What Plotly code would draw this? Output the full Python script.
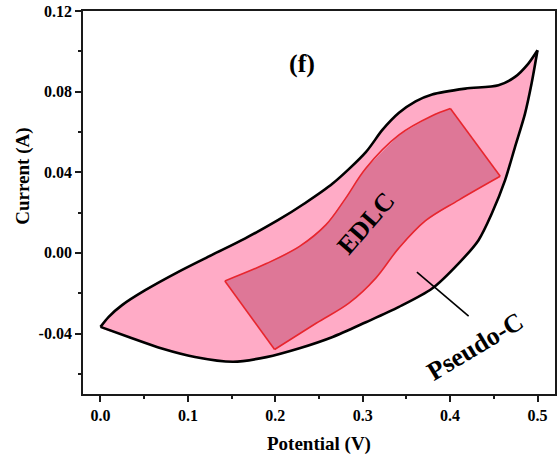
import plotly.graph_objects as go

# ---- data ----
# anodic sweep (upper branch), 0 -> 0.5 V
cv_fwd_x = [0.000, 0.0094, 0.0247, 0.0512, 0.0891, 0.1271, 0.1651, 0.2030, 0.2334,
            0.2656, 0.3036, 0.3225, 0.3415, 0.3605, 0.3794, 0.4174, 0.4553, 0.4743,
            0.4895, 0.5000]
cv_fwd_y = [-0.0367, -0.0317, -0.0259, -0.0185, -0.0094, -0.0011, 0.0071, 0.0162, 0.0245,
            0.0344, 0.0500, 0.0610, 0.0695, 0.0752, 0.0786, 0.0815, 0.0832, 0.0873,
            0.0939, 0.1005]
# cathodic sweep (lower branch), 0.5 -> 0 V
cv_rev_x = [0.5000, 0.4932, 0.4857, 0.4743, 0.4629, 0.4477, 0.4325, 0.4098, 0.3794,
            0.3415, 0.3036, 0.2656, 0.2277, 0.1898, 0.1517, 0.1081, 0.0702, 0.0322, 0.000]
cv_rev_y = [0.1005, 0.0840, 0.0691, 0.0526, 0.0361, 0.0195, 0.0063, -0.0052, -0.0177,
            -0.0268, -0.0344, -0.0417, -0.0473, -0.0517, -0.0540, -0.0516, -0.0474, -0.0417, -0.0367]

# EDLC region: upper edge (left corner -> top corner), lower edge (bottom corner -> right corner)
edlc_upper_x = [0.1423, 0.1898, 0.2277, 0.2581, 0.2800, 0.3036, 0.3415, 0.3794, 0.4003]
edlc_upper_y = [-0.0139, -0.0053, 0.0032, 0.0140, 0.0268, 0.0420, 0.0585, 0.0680, 0.0716]
edlc_lower_x = [0.1992, 0.2467, 0.2846, 0.3150, 0.3415, 0.3719, 0.4098, 0.4573]
edlc_lower_y = [-0.0479, -0.0349, -0.0248, -0.0125, 0.0025, 0.0160, 0.0262, 0.0380]

pointer_x = [0.362, 0.4212]
pointer_y = [-0.0095, -0.0314]

x_ticks = [0.0, 0.1, 0.2, 0.3, 0.4, 0.5]
x_ticktext = ["0.0", "0.1", "0.2", "0.3", "0.4", "0.5"]
x_minor = [0.05, 0.15, 0.25, 0.35, 0.45]
y_ticks = [-0.04, 0.0, 0.04, 0.08, 0.12]
y_ticktext = ["-0.04", "0.00", "0.04", "0.08", "0.12"]
y_minor = [-0.06, -0.02, 0.02, 0.06, 0.10]

FONT = "Liberation Serif"
PINK = "#FFABC6"
DARK_PINK = "#DE7797"
RED = "#E8262E"

fig = go.Figure()

# outer CV fill
fig.add_trace(go.Scatter(
    x=cv_fwd_x + cv_rev_x[1:], y=cv_fwd_y + cv_rev_y[1:],
    mode="lines", fill="toself", fillcolor=PINK,
    line=dict(width=0, shape="spline", smoothing=0.8, color=PINK),
    hoverinfo="skip", showlegend=False))

# EDLC fill
poly_x = edlc_upper_x + edlc_lower_x[::-1] + [edlc_upper_x[0]]
poly_y = edlc_upper_y + edlc_lower_y[::-1] + [edlc_upper_y[0]]
fig.add_trace(go.Scatter(
    x=poly_x, y=poly_y, mode="lines", fill="toself", fillcolor=DARK_PINK,
    line=dict(width=0, color=DARK_PINK),
    hoverinfo="skip", showlegend=False))

# EDLC red edges
for xs, ys, shp in [
    (edlc_upper_x, edlc_upper_y, "spline"),
    (edlc_lower_x, edlc_lower_y, "spline"),
    ([edlc_upper_x[-1], edlc_lower_x[-1]], [edlc_upper_y[-1], edlc_lower_y[-1]], "linear"),
    ([edlc_upper_x[0], edlc_lower_x[0]], [edlc_upper_y[0], edlc_lower_y[0]], "linear"),
]:
    fig.add_trace(go.Scatter(x=xs, y=ys, mode="lines",
                             line=dict(color=RED, width=1.6, shape=shp, smoothing=1.0),
                             hoverinfo="skip", showlegend=False))

# black CV outline
for xs, ys in [(cv_fwd_x, cv_fwd_y), (cv_rev_x, cv_rev_y)]:
    fig.add_trace(go.Scatter(x=xs, y=ys, mode="lines",
                             line=dict(color="black", width=2.6, shape="spline", smoothing=0.8),
                             hoverinfo="skip", showlegend=False))

# pointer line
fig.add_trace(go.Scatter(x=pointer_x, y=pointer_y, mode="lines",
                         line=dict(color="black", width=1.6),
                         hoverinfo="skip", showlegend=False))

axis_common = dict(showline=True, mirror=True, linecolor="#1a1a1a", linewidth=1.8,
                   showgrid=False, zeroline=False, ticks="outside", ticklen=6,
                   tickwidth=1.5, tickcolor="#1a1a1a",
                   tickfont=dict(family=FONT, size=16, color="black", weight="bold"))

fig.update_xaxes(range=[-0.02, 0.52], tickvals=x_ticks, ticktext=x_ticktext,
                 minor=dict(tickvals=x_minor, ticks="outside", ticklen=3, tickwidth=1.5,
                            tickcolor="#1a1a1a"),
                 **axis_common)
fig.update_yaxes(range=[-0.07, 0.12], tickvals=y_ticks, ticktext=y_ticktext,
                 minor=dict(tickvals=y_minor, ticks="outside", ticklen=3, tickwidth=1.5,
                            tickcolor="#1a1a1a"),
                 **axis_common)

ann_font = dict(family=FONT, color="black", weight="bold")
fig.update_layout(
    width=558, height=459,
    margin=dict(l=83, r=1, t=11, b=65),
    plot_bgcolor="white", paper_bgcolor="white",
    annotations=[
        dict(text="Potential (V)", xref="paper", yref="paper", x=0.5, y=-0.13,
             xanchor="center", yanchor="middle",
             showarrow=False, font=dict(size=19, **ann_font)),
        dict(text="Current (A)", xref="paper", yref="paper", x=-0.1266, y=0.568,
             xanchor="center", yanchor="middle",
             textangle=-90, showarrow=False, font=dict(size=19, **ann_font)),
        dict(text="(f)", x=0.231, y=0.0941, xanchor="center", yanchor="middle",
             showarrow=False, font=dict(size=26, **ann_font)),
        dict(text="EDLC", x=0.3036, y=0.0146, textangle=-49, xanchor="center", yanchor="middle",
             showarrow=False, font=dict(size=26, **ann_font)),
        dict(text="Pseudo-C", x=0.4288, y=-0.0466, textangle=-31, xanchor="center",
             yanchor="middle", showarrow=False, font=dict(size=26, **ann_font)),
    ],
)

fig.write_html("out.html")
